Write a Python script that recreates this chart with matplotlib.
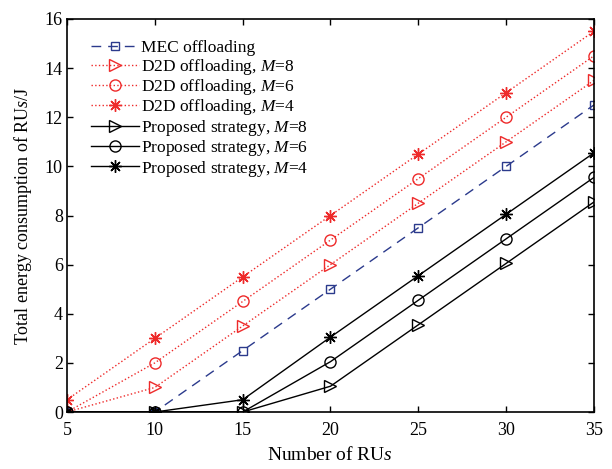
import numpy as np
import matplotlib.pyplot as plt

plt.rcParams.update({
    'font.family'     : 'Liberation Serif',
    'mathtext.fontset': 'custom',
    'mathtext.it'     : 'Liberation Serif:italic',
    'mathtext.rm'     : 'Liberation Serif',
    'xtick.direction' : 'in',
    'ytick.direction' : 'in',
    'xtick.top'       : True,
    'ytick.right'     : True,
})
BLUE = '#2b3a8c'
RED  = '#ee2a2a'
STAR = (8, 2, 0)

n_rus = [5, 10, 15, 20, 25, 30, 35]

mec      = [0, 0, 2.5, 5.0, 7.5, 10.0, 12.5]
d2d_m8   = [0, 1.0, 3.5, 6.0, 8.5, 11.0, 13.5]
d2d_m6   = [0, 2.0, 4.5, 7.0, 9.5, 12.0, 14.5]
d2d_m4   = [0.5, 3.0, 5.5, 8.0, 10.5, 13.0, 15.5]
prop_m8  = [0, 0, 0, 1.05, 3.55, 6.05, 8.55]
prop_m6  = [0, 0, 0, 2.05, 4.55, 7.05, 9.55]
prop_m4  = [0, 0, 0.5, 3.05, 5.55, 8.05, 10.55]

fig = plt.figure(figsize=(6.12, 4.69), dpi=100)
ax = fig.add_axes([0.1095, 0.1215, 0.861, 0.838])

ax.plot(n_rus, mec, color=BLUE, ls=(0, (7, 5)), lw=1, marker='s', ms=6,
        mfc='none', mec=BLUE, label='MEC offloading')
ax.plot(n_rus, d2d_m8, color=RED, ls=':', lw=1, marker='>', ms=8,
        mfc='none', mec=RED, label='D2D offloading, $M$=8')
ax.plot(n_rus, d2d_m6, color=RED, ls=':', lw=1, marker='o', ms=8,
        mfc='none', mec=RED, label='D2D offloading, $M$=6')
ax.plot(n_rus, d2d_m4, color=RED, ls=':', lw=1, marker=STAR, ms=9,
        mfc=RED, mec=RED, label='D2D offloading, $M$=4')
ax.plot(n_rus, prop_m8, color='black', lw=1, marker='>', ms=8,
        mfc='none', mec='black', label='Proposed strategy, $M$=8')
ax.plot(n_rus, prop_m6, color='black', lw=1, marker='o', ms=8,
        mfc='none', mec='black', label='Proposed strategy, $M$=6')
ax.plot(n_rus, prop_m4, color='black', lw=1, marker=STAR, ms=9,
        mfc='black', mec='black', label='Proposed strategy, $M$=4')

ax.set_xlim(5, 35)
ax.set_ylim(0, 16)
ax.set_xticks(n_rus)
ax.set_yticks(np.arange(0, 17, 2))
ax.tick_params(labelsize=13, length=4, width=1, pad=3)
ax.tick_params(axis='x', pad=7)
for s in ax.spines.values():
    s.set_linewidth(1.2)

ax.set_xlabel('Number of RU$s$', fontsize=14, labelpad=5)
ax.set_ylabel('Total energy consumption of RU$s$/J', fontsize=13, labelpad=8)

ax.legend(loc='upper left', frameon=False, fontsize=12.5, handlelength=2.8,
          handletextpad=0.1, labelspacing=0.02, borderaxespad=0.6,
          bbox_to_anchor=(0.012, 0.99))

plt.savefig('out.png', dpi=100)
